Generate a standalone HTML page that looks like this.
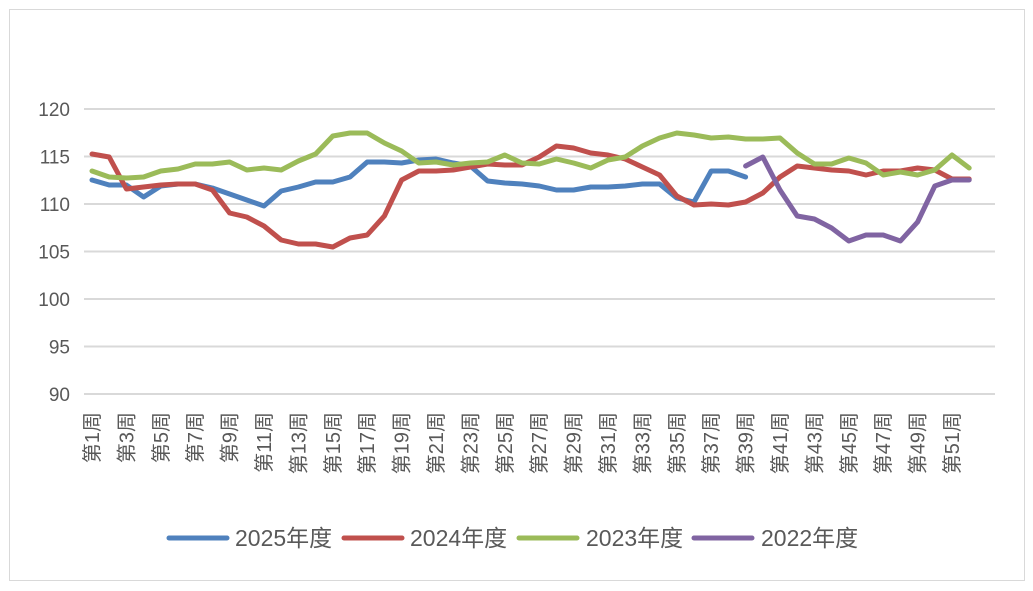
<!DOCTYPE html>
<html><head><meta charset="utf-8"><style>
body{margin:0;background:#fff}
svg{display:block}
text{font-family:"Liberation Sans","Noto Sans CJK SC",sans-serif;fill:#595959}
</style></head><body>
<svg id="s" width="1033" height="591" xmlns="http://www.w3.org/2000/svg">
<rect x="9.5" y="9.5" width="1015" height="571" fill="#fff" stroke="#d9d9d9"/>
<g stroke="#d9d9d9" stroke-width="2">
<line x1="84" x2="995" y1="109" y2="109"/><line x1="84" x2="995" y1="156.5" y2="156.5"/>
<line x1="84" x2="995" y1="204" y2="204"/><line x1="84" x2="995" y1="251.5" y2="251.5"/>
<line x1="84" x2="995" y1="299" y2="299"/><line x1="84" x2="995" y1="346.5" y2="346.5"/>
<line x1="84" x2="995" y1="394" y2="394"/>
</g>
<g font-size="19" text-anchor="end">
<text x="70" y="116">120</text><text x="70" y="163.5">115</text><text x="70" y="211">110</text>
<text x="70" y="258.5">105</text><text x="70" y="306">100</text><text x="70" y="353.5">95</text><text x="70" y="401">90</text>
</g>
<g font-size="20" text-anchor="end">
<text transform="translate(99,412) rotate(-90)">第1周</text>
<text transform="translate(133.4,412) rotate(-90)">第3周</text>
<text transform="translate(167.8,412) rotate(-90)">第5周</text>
<text transform="translate(202.2,412) rotate(-90)">第7周</text>
<text transform="translate(236.6,412) rotate(-90)">第9周</text>
<text transform="translate(271,412) rotate(-90)">第11周</text>
<text transform="translate(305.4,412) rotate(-90)">第13周</text>
<text transform="translate(339.8,412) rotate(-90)">第15周</text>
<text transform="translate(374.2,412) rotate(-90)">第17周</text>
<text transform="translate(408.6,412) rotate(-90)">第19周</text>
<text transform="translate(443,412) rotate(-90)">第21周</text>
<text transform="translate(477.4,412) rotate(-90)">第23周</text>
<text transform="translate(511.8,412) rotate(-90)">第25周</text>
<text transform="translate(546.2,412) rotate(-90)">第27周</text>
<text transform="translate(580.6,412) rotate(-90)">第29周</text>
<text transform="translate(615,412) rotate(-90)">第31周</text>
<text transform="translate(649.4,412) rotate(-90)">第33周</text>
<text transform="translate(683.8,412) rotate(-90)">第35周</text>
<text transform="translate(718.2,412) rotate(-90)">第37周</text>
<text transform="translate(752.6,412) rotate(-90)">第39周</text>
<text transform="translate(787,412) rotate(-90)">第41周</text>
<text transform="translate(821.4,412) rotate(-90)">第43周</text>
<text transform="translate(855.8,412) rotate(-90)">第45周</text>
<text transform="translate(890.2,412) rotate(-90)">第47周</text>
<text transform="translate(924.6,412) rotate(-90)">第49周</text>
<text transform="translate(959,412) rotate(-90)">第51周</text>
</g>
<g id="lines" fill="none" stroke-width="5" stroke-linejoin="round" stroke-linecap="round"></g>
<g stroke-width="5" stroke-linecap="round">
<line x1="169" x2="227" y1="538" y2="538" stroke="#4f81bd"/>
<line x1="344" x2="402" y1="538" y2="538" stroke="#c0504d"/>
<line x1="519" x2="577" y1="538" y2="538" stroke="#9bbb59"/>
<line x1="694" x2="752" y1="538" y2="538" stroke="#8064a2"/>
</g>
<g font-size="23">
<text x="235" y="546">2025年度</text><text x="410" y="546">2024年度</text>
<text x="586" y="546">2023年度</text><text x="761" y="546">2022年度</text>
</g>
</svg>
<script>
var S={
"#4f81bd":[1,[180,185,185,197,186,184,184,188,194,200,206,191,187,182,182,177,162,162,163,160,159,163,166,181,183,184,186,190,190,187,187,186,184,184,198,202,171,171,177]],
"#c0504d":[1,[154,157,189,187,185,184,184,190,213,217,226,240,244,244,247,238,235,216,180,171,171,170,167,164,165,165,157,146,148,153,155,159,167,175,196,205,204,205,202,193,177,166,168,170,171,175,171,171,168,170,179,179]],
"#9bbb59":[1,[171,177,178,177,171,169,164,164,162,170,168,170,161,154,136,133,133,143,151,163,162,165,163,162,155,163,164,159,163,168,160,157,146,138,133,135,138,137,139,139,138,153,164,164,158,163,175,172,175,170,155,168]],
"#8064a2":[39,[166,157,190,216,219,228,241,235,235,241,222,186,180,180]]};
var g=document.getElementById('lines'),h='';
for(var c in S){var st=S[c][0],d=S[c][1],p=[];for(var i=0;i<d.length;i++)p.push((92+17.2*(st+i-1)).toFixed(1)+','+d[i]);
h+='<polyline stroke="'+c+'" points="'+p.join(' ')+'"/>';}
g.innerHTML=h;
</script>
</body></html>
